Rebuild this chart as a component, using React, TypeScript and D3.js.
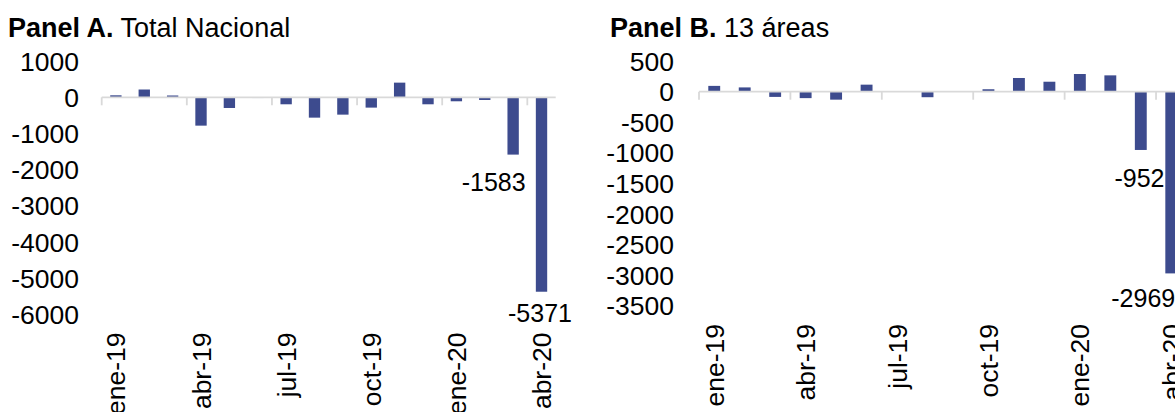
import React from "react";
import * as d3 from "d3";

const months = ["ene-19","feb-19","mar-19","abr-19","may-19","jun-19","jul-19","ago-19","sep-19","oct-19","nov-19","dic-19","ene-20","feb-20","mar-20","abr-20"];
const shownMonths = ["ene-19","abr-19","jul-19","oct-19","ene-20","abr-20"];
const totalNacional = [55, 215, 50, -783, -295, -20, -193, -562, -479, -285, 405, -193, -110, -74, -1583, -5371];
const trece = [95, 70, -85, -105, -130, 115, 0, -90, 0, 40, 224, 163, 289, 267, -952, -2969];
const ticksA = [1000, 0, -1000, -2000, -3000, -4000, -5000, -6000];
const ticksB = [500, 0, -500, -1000, -1500, -2000, -2500, -3000, -3500];

const FONT = "'Liberation Sans', Arial, sans-serif";
const BAR = "#3D4B8E";
const AXIS = "#D9D9D9";
const FS_TITLE = 27;
const FS_TICK = 26.5;
const FS_LABEL = 25;

type PanelProps = {
  bold: string; rest: string; titleX: number;
  values: number[]; ticks: number[]; domain: [number, number];
  yRange: [number, number]; xRange: [number, number]; pInner: number;
  labelX: number; labels: { i: number; dx: number; dy: number }[];
};

function Panel(p: PanelProps) {
  const x = d3.scaleBand<string>().domain(months).range(p.xRange).paddingInner(p.pInner).paddingOuter(p.pInner / 2);
  const y = d3.scaleLinear().domain(p.domain).range(p.yRange);
  const step = x.step();
  const y0 = y(0);
  const bottom = p.yRange[0];
  const boundaries = d3.range(0, months.length + 1, 3).filter((k) => k < months.length);
  return (
    <g>
      <text x={p.titleX} y={37} fontFamily={FONT} fontSize={FS_TITLE} fill="#000">
        <tspan fontWeight="bold">{p.bold}</tspan>
        <tspan> {p.rest}</tspan>
      </text>
      {p.ticks.map((t) => (
        <text key={t} x={p.labelX} y={y(t)} dy="0.36em" textAnchor="end" fontFamily={FONT} fontSize={FS_TICK} fill="#000">{t}</text>
      ))}
      {p.values.map((v, i) => (
        <rect key={i} x={x(months[i])!} width={x.bandwidth()} y={Math.min(y(v), y0)} height={Math.abs(y(v) - y0)} fill={BAR} />
      ))}
      <line x1={p.xRange[0]} x2={p.xRange[1]} y1={y0} y2={y0} stroke={AXIS} strokeWidth={1.8} />
      {boundaries.map((k) => (
        <line key={k} x1={p.xRange[0] + k * step} x2={p.xRange[0] + k * step} y1={y0} y2={y0 + 8} stroke={AXIS} strokeWidth={1.8} />
      ))}
      {shownMonths.map((m) => {
        const cx = x(m)! + x.bandwidth() / 2;
        const ty = bottom + 18;
        return (
          <text key={m} transform={`translate(${cx},${ty}) rotate(-90)`} dy="0.36em" textAnchor="end" fontFamily={FONT} fontSize={FS_TICK} fill="#000">{m}</text>
        );
      })}
      {p.labels.map((l) => {
        const v = p.values[l.i];
        const cx = x(months[l.i])! + x.bandwidth() / 2 + l.dx;
        return (
          <text key={l.i} x={cx} y={y(v) + l.dy} dy="0.36em" textAnchor="middle" fontFamily={FONT} fontSize={FS_LABEL} fill="#000">{v}</text>
        );
      })}
    </g>
  );
}

export default function App() {
  return (
    <svg width={1175} height={412} style={{ position: "absolute", left: 0, top: 0, background: "#fff" }}>
      <rect width={1175} height={412} fill="#fff" />
      <Panel bold="Panel A." rest="Total Nacional" titleX={8}
        values={totalNacional} ticks={ticksA} domain={[-6000, 1000]} yRange={[314.5, 61.1]}
        xRange={[101.7, 555.7]} pInner={0.6} labelX={79}
        labels={[{ i: 14, dx: -19.5, dy: 27 }, { i: 15, dx: -1.5, dy: 21 }]} />
      <Panel bold="Panel B." rest="13 áreas" titleX={610}
        values={trece} ticks={ticksB} domain={[-3500, 500]} yRange={[305.9, 61.1]}
        xRange={[699, 1186.5]} pInner={0.61} labelX={674}
        labels={[{ i: 14, dx: -1.3, dy: 28 }, { i: 15, dx: -28, dy: 25 }]} />
    </svg>
  );
}
